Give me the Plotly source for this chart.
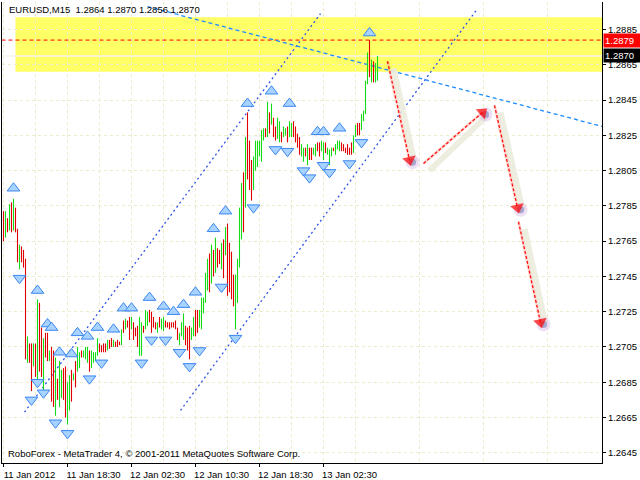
import plotly.graph_objects as go

# ---------------- data ----------------
symbol_title = "EURUSD,M15  1.2864 1.2870 1.2856 1.2870"
footer_text = "RoboForex - MetaTrader 4, © 2001-2011 MetaQuotes Software Corp."

x_tick_index = [0, 32, 64, 96, 128, 160]
x_tick_text = ["11 Jan 2012", "11 Jan 18:30", "12 Jan 02:30", "12 Jan 10:30", "12 Jan 18:30", "13 Jan 02:30"]
x_minor_index = [16, 48, 80, 112, 144, 176, 208, 240, 272]
y_tick_values = [1.2645, 1.2665, 1.2685, 1.2705, 1.2725, 1.2745, 1.2765,
                 1.2785, 1.2805, 1.2825, 1.2845, 1.2865, 1.2885]

bar_high = [
    1.2782, 1.2782, 1.2778, 1.2786, 1.2787, 1.2789, 1.2784, 1.2772, 1.2763, 1.2762,
    1.2760, 1.2755, 1.2711, 1.2707, 1.2707, 1.2707, 1.2707, 1.2732, 1.2730, 1.2716,
    1.2710, 1.2713, 1.2713, 1.2703, 1.2705, 1.2703, 1.2699, 1.2687, 1.2697, 1.2692,
    1.2693, 1.2694, 1.2685, 1.2689, 1.2692, 1.2690, 1.2697, 1.2705, 1.2702, 1.2703,
    1.2703, 1.2705, 1.2705, 1.2703, 1.2703, 1.2702, 1.2702, 1.2710, 1.2707, 1.2706,
    1.2707, 1.2707, 1.2709, 1.2709, 1.2710, 1.2709, 1.2708, 1.2709, 1.2708, 1.2715,
    1.2720, 1.2721, 1.2720, 1.2722, 1.2722, 1.2719, 1.2716, 1.2717, 1.2722, 1.2719,
    1.2717, 1.2726, 1.2725, 1.2726, 1.2725, 1.2722, 1.2719, 1.2719, 1.2722, 1.2721,
    1.2722, 1.2720, 1.2719, 1.2719, 1.2719, 1.2719, 1.2720, 1.2716, 1.2713, 1.2719,
    1.2724, 1.2717, 1.2716, 1.2717, 1.2716, 1.2722, 1.2726, 1.2726, 1.2726, 1.2733,
    1.2733, 1.2747, 1.2755, 1.2758, 1.2763, 1.2760, 1.2767, 1.2761, 1.2760, 1.2764,
    1.2766, 1.2773, 1.2775, 1.2764, 1.2759, 1.2746, 1.2746, 1.2755, 1.2784, 1.2798,
    1.2804, 1.2824, 1.2838, 1.2822, 1.2811, 1.2813, 1.2822, 1.2822, 1.2822, 1.2828,
    1.2829, 1.2829, 1.2844, 1.2838, 1.2843, 1.2835, 1.2830, 1.2835, 1.2833, 1.2827,
    1.2830, 1.2829, 1.2830, 1.2833, 1.2832, 1.2833, 1.2830, 1.2826, 1.2824, 1.2820,
    1.2818, 1.2818, 1.2820, 1.2818, 1.2818, 1.2818, 1.2820, 1.2821, 1.2821, 1.2822,
    1.2821, 1.2821, 1.2818, 1.2817, 1.2818, 1.2818, 1.2820, 1.2822, 1.2822, 1.2821,
    1.2820, 1.2818, 1.2820, 1.2818, 1.2821, 1.2825, 1.2831, 1.2832, 1.2832, 1.2837,
    1.2839, 1.2856, 1.2872, 1.2879, 1.2868, 1.2867, 1.2866, 1.2870]

bar_low = [
    1.2765, 1.2767, 1.2770, 1.2771, 1.2770, 1.2771, 1.2770, 1.2753, 1.2749, 1.2753,
    1.2750, 1.2698, 1.2696, 1.2696, 1.2680, 1.2694, 1.2688, 1.2685, 1.2691, 1.2688,
    1.2678, 1.2699, 1.2697, 1.2697, 1.2674, 1.2671, 1.2666, 1.2675, 1.2671, 1.2676,
    1.2675, 1.2665, 1.2661, 1.2669, 1.2674, 1.2686, 1.2682, 1.2691, 1.2693, 1.2699,
    1.2699, 1.2698, 1.2696, 1.2691, 1.2693, 1.2696, 1.2697, 1.2700, 1.2702, 1.2702,
    1.2702, 1.2702, 1.2703, 1.2704, 1.2705, 1.2705, 1.2705, 1.2705, 1.2706, 1.2706,
    1.2713, 1.2715, 1.2716, 1.2709, 1.2715, 1.2709, 1.2711, 1.2705, 1.2700, 1.2700,
    1.2713, 1.2715, 1.2717, 1.2719, 1.2713, 1.2716, 1.2715, 1.2713, 1.2716, 1.2715,
    1.2714, 1.2716, 1.2716, 1.2715, 1.2716, 1.2716, 1.2715, 1.2709, 1.2706, 1.2711,
    1.2709, 1.2706, 1.2703, 1.2698, 1.2709, 1.2711, 1.2711, 1.2713, 1.2716, 1.2715,
    1.2724, 1.2730, 1.2737, 1.2736, 1.2741, 1.2745, 1.2747, 1.2750, 1.2752, 1.2749,
    1.2744, 1.2757, 1.2734, 1.2736, 1.2732, 1.2728, 1.2715, 1.2730, 1.2750, 1.2766,
    1.2770, 1.2784, 1.2800, 1.2794, 1.2788, 1.2794, 1.2805, 1.2807, 1.2813, 1.2810,
    1.2822, 1.2824, 1.2824, 1.2826, 1.2831, 1.2824, 1.2822, 1.2823, 1.2821, 1.2821,
    1.2824, 1.2825, 1.2821, 1.2824, 1.2824, 1.2824, 1.2821, 1.2818, 1.2814, 1.2813,
    1.2810, 1.2813, 1.2808, 1.2811, 1.2811, 1.2814, 1.2813, 1.2816, 1.2813, 1.2816,
    1.2811, 1.2815, 1.2814, 1.2808, 1.2813, 1.2816, 1.2814, 1.2817, 1.2816, 1.2816,
    1.2816, 1.2815, 1.2814, 1.2814, 1.2814, 1.2815, 1.2824, 1.2825, 1.2825, 1.2828,
    1.2833, 1.2837, 1.2854, 1.2858, 1.2855, 1.2855, 1.2855, 1.2856]

# u = bullish bar (green), d = bearish bar (red)
bar_dir_rows = ["dudududdud", "dduddududd", "uddudduduu", "dduududuud",
                "uuuduuuudd", "dduddudddu", "dudduddduu", "duuddddudu",
                "uddddddduu", "uddduudduu", "uuudududdu", "dudddduuuu",
                "duddduuuuu", "udududduud", "uuduuddddu", "ududduuddu",
                "uduuuduuud", "ddddduuddu", "uuududuu"]
bar_dir = "".join(bar_dir_rows)

fractal_up_index = [5, 17, 22, 24, 28, 34, 37, 42, 47, 55, 60, 64, 73, 80, 85, 90, 96,
                    105, 111, 122, 134, 143, 157, 160, 168, 183]
fractal_up_price = [1.2795, 1.2737, 1.2718, 1.2716, 1.2702, 1.2701, 1.2713, 1.2711, 1.2716,
                    1.2715, 1.2727, 1.2727, 1.2733, 1.2728, 1.2725, 1.2729, 1.2736,
                    1.2772, 1.2782, 1.2843, 1.2850, 1.2843, 1.2827, 1.2827, 1.2829, 1.2883]
fractal_down_index = [8, 14, 17, 20, 26, 32, 43, 49, 69, 74, 81, 88, 93, 98, 109, 116,
                      125, 136, 142, 150, 153, 160, 163, 173, 179]
fractal_down_price = [1.2744, 1.2675, 1.2685, 1.2679, 1.2662, 1.2656, 1.2687, 1.2696, 1.2696,
                      1.2709, 1.2709, 1.2702, 1.2694, 1.2703, 1.2739, 1.2710,
                      1.2784, 1.2817, 1.2816, 1.2805, 1.2801, 1.2808, 1.2804, 1.2809, 1.2821]

channel_upper_x = [10.5, 158.5]
channel_upper_y = [1.2668, 1.2894]
channel_lower_x = [88.5, 236.5]
channel_lower_y = [1.2669, 1.2896]
trend_x = [72, 299.5]
trend_y = [1.2898, 1.2830]

forecast_x = [[192, 203], [210, 239.5], [245.5, 257], [257.5, 268.5]]
forecast_y = [[1.2867, 1.2811], [1.2809, 1.2838], [1.2842, 1.2784], [1.2776, 1.2719]]

zone_start = 6
zone_low = 1.2861
zone_high = 1.2892
ask_level = 1.2879
bid_level = 1.2870

n_bars = min(len(bar_high), len(bar_low), len(bar_dir))

# ---------------- figure ----------------
FONT = "Liberation Sans"
GRID = "#ECECCC"
fig = go.Figure()


def segs(flag):
    xs, ys = [], []
    for i in range(n_bars):
        if bar_dir[i] == flag:
            xs += [i, i, None]
            ys += [bar_low[i], bar_high[i], None]
    return xs, ys


# bid line (light) inside the zone
fig.add_trace(go.Scatter(x=[-1, 300], y=[bid_level, bid_level], mode="lines",
                         line=dict(color="#F4F4EC", width=1.5), hoverinfo="skip"))
# ask line (red dashed)
fig.add_trace(go.Scatter(x=[-1, 300], y=[ask_level, ask_level], mode="lines",
                         line=dict(color="#FF0000", width=1, dash="4px,3px"), hoverinfo="skip"))

# channel lines
for cx, cy in [(channel_upper_x, channel_upper_y), (channel_lower_x, channel_lower_y)]:
    fig.add_trace(go.Scatter(x=cx, y=cy, mode="lines",
                             line=dict(color="#2F55E8", width=1.3, dash="2px,3px"), hoverinfo="skip"))
fig.add_trace(go.Scatter(x=trend_x, y=trend_y, mode="lines",
                         line=dict(color="#1E8CFF", width=1.3, dash="4px,3px"), hoverinfo="skip"))

# bars
for flag, col in [("u", "#14DC14"), ("d", "#E00000")]:
    xs, ys = segs(flag)
    fig.add_trace(go.Scatter(x=xs, y=ys, mode="lines", line=dict(color=col, width=1.1),
                             hoverinfo="skip"))

# fractal markers
fig.add_trace(go.Scatter(x=fractal_up_index, y=fractal_up_price, mode="markers",
                         marker=dict(symbol="triangle-up", size=11, color="#A8D2FF",
                                     line=dict(color="#3A86F2", width=1)), hoverinfo="skip"))
fig.add_trace(go.Scatter(x=fractal_down_index, y=fractal_down_price, mode="markers",
                         marker=dict(symbol="triangle-down", size=11, color="#A8D2FF",
                                     line=dict(color="#3A86F2", width=1)), hoverinfo="skip"))

# forecast arrows
for fx, fy in zip(forecast_x, forecast_y):
    sx = [fx[0] + 3, fx[1] + 2.5]
    sy = [fy[0] - 0.0004, fy[1] - 0.00015]
    fig.add_trace(go.Scatter(x=sx, y=sy, mode="lines",
                             line=dict(color="rgba(236,236,222,0.95)", width=6), hoverinfo="skip"))
    fig.add_trace(go.Scatter(x=[fx[1] + 1.5], y=[fy[1] - 0.00012], mode="markers",
                             marker=dict(size=14, color="rgba(215,185,230,0.45)"), hoverinfo="skip"))
    fig.add_trace(go.Scatter(x=[fx[1] + 1.5], y=[fy[1] - 0.00012], mode="markers",
                             marker=dict(size=7, color="rgba(150,150,195,0.8)"), hoverinfo="skip"))
    fig.add_trace(go.Scatter(x=fx, y=fy, mode="lines",
                             line=dict(color="rgba(255,140,120,0.3)", width=3), hoverinfo="skip"))
    fig.add_trace(go.Scatter(x=fx, y=fy, mode="lines+markers",
                             line=dict(color="#FF1010", width=1.3, dash="3px,2px"),
                             marker=dict(symbol="triangle-up", size=[0, 12], color="#FF0000",
                                         angleref="previous", line=dict(width=0)),
                             hoverinfo="skip"))

# yellow zone
fig.add_shape(type="rect", xref="x", x0=zone_start, x1=300, yref="y", y0=zone_low, y1=zone_high,
              fillcolor="#FFFF66", line=dict(width=0), layer="below")

fig.update_layout(
    width=640, height=480,
    margin=dict(l=2, r=38, t=2, b=17),
    paper_bgcolor="white", plot_bgcolor="white",
    showlegend=False,
    font=dict(family=FONT, size=9.5, color="black"),
    xaxis=dict(range=[-0.75, 299.25], tickmode="array", tickvals=x_tick_index, ticktext=x_tick_text,
               ticks="outside", ticklen=3, tickcolor="black", showline=True, linecolor="black",
               linewidth=1, showgrid=True, gridcolor=GRID, griddash="3px,3px", zeroline=False,
               ticklabelshift=26, ticklabelstandoff=0, ticklabeloverflow="allow", automargin=False,
               tickfont=dict(family=FONT, size=9.5, color="black"),
               minor=dict(tickmode="array", tickvals=x_minor_index, showgrid=True,
                          gridcolor=GRID, griddash="3px,3px", ticks="")),
    yaxis=dict(range=[1.26392, 1.29006], side="right", tickmode="array", tickvals=y_tick_values,
               tickformat=".4f", ticks="outside", ticklen=3, tickcolor="black", showline=True,
               mirror=True, linecolor="black", linewidth=1, showgrid=True, gridcolor=GRID,
               griddash="3px,3px", zeroline=False, automargin=False, ticklabelstandoff=0,
               tickfont=dict(family=FONT, size=9.5, color="black")),
)

fig.add_annotation(xref="paper", yref="paper", x=0.0085, y=0.983, xanchor="left", yanchor="middle",
                   text=symbol_title, showarrow=False, font=dict(family=FONT, size=9.5, color="black"))
fig.add_annotation(xref="paper", yref="paper", x=0.0068, y=0.021, xanchor="left", yanchor="middle",
                   text=footer_text, showarrow=False, font=dict(family=FONT, size=9.5, color="black"))

for lvl, bg in [(ask_level, "#FF0000"), (bid_level, "#000000")]:
    fig.add_annotation(xref="paper", yref="y", x=1, xshift=1, y=lvl, xanchor="left", yanchor="middle",
                       text=f"{lvl:.4f}", showarrow=False, bgcolor=bg, borderpad=1, width=34,
                       align="left", font=dict(family=FONT, size=9.5, color="white"))

fig.write_html("out.html", config={"displayModeBar": False},
               post_script="document.body.style.margin='0px';document.body.style.overflow='hidden';")
